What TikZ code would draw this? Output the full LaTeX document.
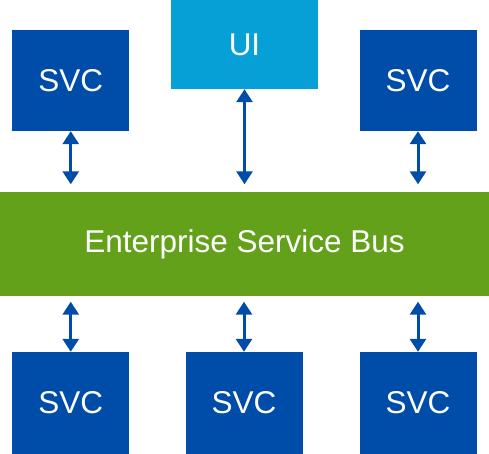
\documentclass[tikz,border=0pt]{standalone}
\usepackage{fontspec}
\setmainfont{Liberation Sans}
\usepackage{tikz}
\usetikzlibrary{arrows.meta}

\definecolor{svcblue}{RGB}{0,77,169}
\definecolor{uiblue}{RGB}{6,160,215}
\definecolor{busgreen}{RGB}{98,161,25}

\tikzset{
    box/.style={inner sep=0pt, text=white, font=\fontsize{31.5}{36}\selectfont},
    svcbox/.style={box, fill=svcblue, minimum width=117pt, minimum height=101pt},
    link/.style={svcblue, line width=3pt, {Triangle[length=13pt,width=16pt]}-{Triangle[length=13pt,width=16pt]}}
}

\begin{document}
\begin{tikzpicture}[x=1pt,y=-1pt]
    \useasboundingbox (0,0) rectangle (489,454);
    \node[box, fill=busgreen, minimum width=489pt, minimum height=103pt] (esb) at (244.5,244) {Enterprise Service Bus};
    \node[box, fill=uiblue, minimum width=147pt, minimum height=89pt] (ui) at (244.5,44.5) {UI};
    \node[svcbox] (svctl) at (70.75,80.5) {SVC};
    \node[svcbox] (svctr) at (418,80.5) {SVC};
    \foreach \x/\n in {70.75/bl,244/bm,418/br} {
        \node[svcbox, minimum height=102pt] (svc\n) at (\x,403) {SVC};
        \draw[link, shorten <=6pt] (svc\n.north |- esb.south) -- (svc\n.north);
    }
    \draw[link, shorten >=8pt] (svctl.south) -- (svctl.south |- esb.north);
    \draw[link, shorten >=8pt] (ui.south) -- (ui.south |- esb.north);
    \draw[link, shorten >=8pt] (svctr.south) -- (svctr.south |- esb.north);
\end{tikzpicture}
\end{document}
